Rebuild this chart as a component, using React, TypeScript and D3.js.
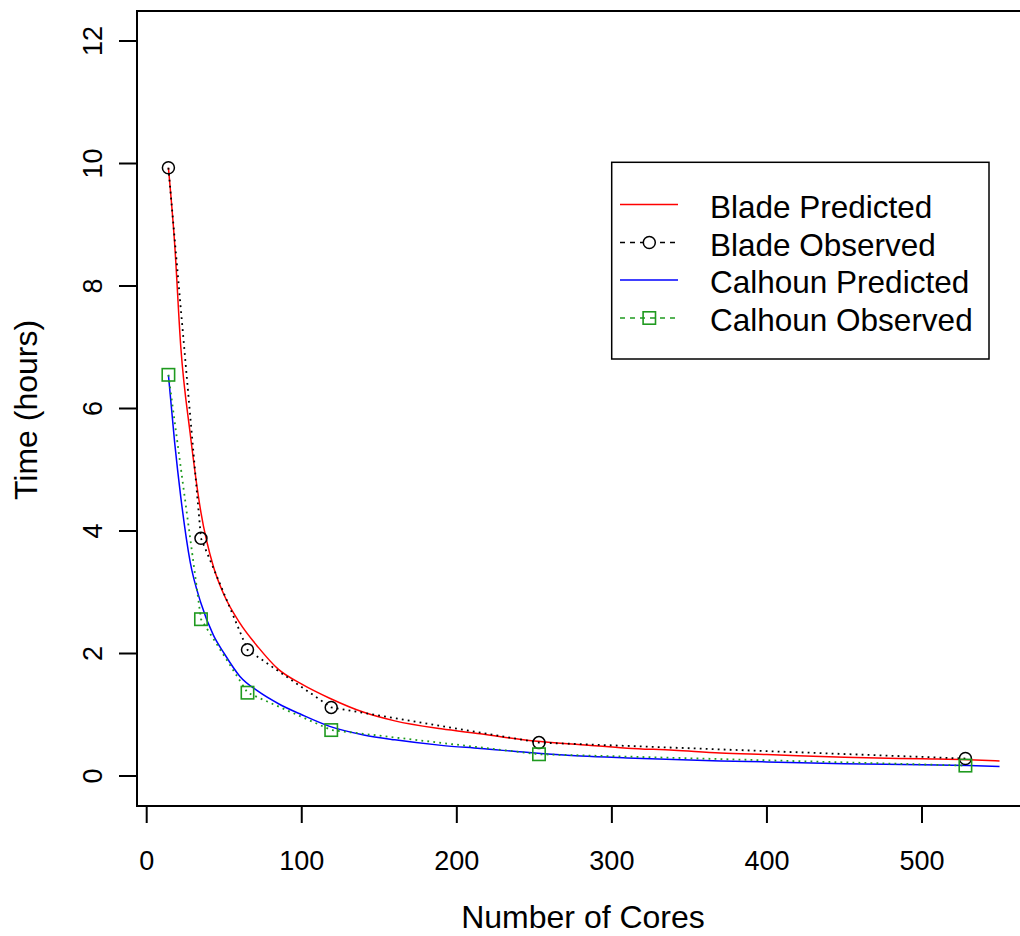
import React from "react";
import * as d3 from "d3";

// ---- data ----
const predCores = [14, 18, 22, 28, 35, 43, 50, 60, 72, 85, 100, 118, 140, 160, 190, 215, 250, 280, 310, 340, 370, 400, 450, 500, 530, 550];
const bladePredicted = [9.93, 8.7, 7.0, 5.6, 4.3, 3.42, 2.95, 2.5, 2.1, 1.74, 1.5, 1.27, 1.04, 0.9, 0.77, 0.69, 0.57, 0.51, 0.455, 0.42, 0.375, 0.35, 0.305, 0.28, 0.265, 0.245];
const calhounPredicted = [6.55, 5.45, 4.55, 3.5, 2.82, 2.3, 2.0, 1.63, 1.38, 1.18, 1.0, 0.81, 0.67, 0.59, 0.5, 0.45, 0.375, 0.325, 0.295, 0.27, 0.245, 0.23, 0.2, 0.185, 0.17, 0.155];

const obsCores = [14, 35, 65, 119, 253, 528];
const bladeObserved = [9.93, 3.88, 2.06, 1.12, 0.545, 0.285];
const calhounObserved = [6.55, 2.56, 1.36, 0.75, 0.355, 0.17];

const xTicks = [0, 100, 200, 300, 400, 500];
const yTicks = [0, 2, 4, 6, 8, 10, 12];

const legendLabels = ["Blade Predicted", "Blade Observed", "Calhoun Predicted", "Calhoun Observed"];

const RED = "#ff0000";
const BLUE = "#0000ff";
const GREEN = "#1f9a1f";
const FONT = "'Liberation Sans', Arial, Helvetica, sans-serif";

export default function App() {
  const W = 1020, H = 936;
  const x = d3.scaleLinear().domain([0, 500]).range([146.7, 922]);
  const y = d3.scaleLinear().domain([0, 12]).range([776, 41]);
  const boxL = 137, boxT = 11, boxB = 806, boxR = 1033;

  const predLine = d3
    .line<[number, number]>()
    .x((d) => x(d[0]))
    .y((d) => y(d[1]))
    .curve(d3.curveMonotoneX);
  const obsLine = d3
    .line<[number, number]>()
    .x((d) => x(d[0]))
    .y((d) => y(d[1]));

  const zip = (xs: number[], ys: number[]) => xs.map((v, i) => [v, ys[i]] as [number, number]);

  const legBaselines = [217.5, 255.5, 293, 331];
  const legX0 = 620, legX1 = 678, legSym = 649.3, legText = 710;

  return (
    <svg width={W} height={H} style={{ position: "absolute", left: 0, top: 0, background: "#fff" }} fontFamily={FONT}>
      <rect x={0} y={0} width={W} height={H} fill="#fff" />
      {/* predicted curves */}
      <path d={predLine(zip(predCores, bladePredicted)) || ""} fill="none" stroke={RED} strokeWidth={1.5} />
      <path d={predLine(zip(predCores, calhounPredicted)) || ""} fill="none" stroke={BLUE} strokeWidth={1.5} />
      {/* observed lines */}
      <path d={obsLine(zip(obsCores, bladeObserved)) || ""} fill="none" stroke="#000" strokeWidth={1.8} strokeDasharray="1.8,4.2" />
      <path d={obsLine(zip(obsCores, calhounObserved)) || ""} fill="none" stroke={GREEN} strokeWidth={1.8} strokeDasharray="1.8,4.2" />
      {obsCores.map((c, i) => (
        <circle key={"b" + i} cx={x(c)} cy={y(bladeObserved[i])} r={6} fill="none" stroke="#000" strokeWidth={1.5} />
      ))}
      {obsCores.map((c, i) => (
        <rect key={"c" + i} x={x(c) - 6.2} y={y(calhounObserved[i]) - 6.2} width={12.4} height={12.4} fill="none" stroke={GREEN} strokeWidth={1.6} />
      ))}

      {/* box */}
      <rect x={boxL} y={boxT} width={boxR - boxL} height={boxB - boxT} fill="none" stroke="#000" strokeWidth={2} />

      {/* x axis */}
      <line x1={x(0)} x2={x(500)} y1={boxB} y2={boxB} stroke="#000" strokeWidth={2} />
      {xTicks.map((t) => (
        <g key={"xt" + t}>
          <line x1={x(t)} x2={x(t)} y1={boxB} y2={boxB + 17} stroke="#000" strokeWidth={2} />
          <text x={x(t)} y={870} fontSize={27} textAnchor="middle" fill="#000">
            {t}
          </text>
        </g>
      ))}
      {/* y axis */}
      {yTicks.map((t) => (
        <g key={"yt" + t}>
          <line x1={boxL - 18} x2={boxL} y1={y(t)} y2={y(t)} stroke="#000" strokeWidth={2} />
          <text transform={`translate(102,${y(t)}) rotate(-90)`} fontSize={27} textAnchor="middle" fill="#000">
            {t}
          </text>
        </g>
      ))}

      {/* axis titles */}
      <text x={583} y={928} fontSize={32} textAnchor="middle" fill="#000">
        Number of Cores
      </text>
      <text transform={`translate(37,410) rotate(-90)`} fontSize={32} textAnchor="middle" fill="#000">
        Time (hours)
      </text>

      {/* legend */}
      <rect x={611.7} y={162.3} width={377.3} height={196.7} fill="#fff" stroke="#000" strokeWidth={1.5} />
      {legendLabels.map((lab, i) => {
        const b = legBaselines[i];
        const ly = b - 13;
        return (
          <g key={lab}>
            {i === 0 && <line x1={legX0} x2={legX1} y1={ly} y2={ly} stroke={RED} strokeWidth={1.5} />}
            {i === 2 && <line x1={legX0} x2={legX1} y1={ly} y2={ly} stroke={BLUE} strokeWidth={1.5} />}
            {i === 1 && (
              <>
                <line x1={legX0} x2={legX1} y1={ly} y2={ly} stroke="#000" strokeWidth={1.5} strokeDasharray="5,5" />
                <circle cx={legSym} cy={ly} r={6} fill="#fff" stroke="#000" strokeWidth={1.5} />
              </>
            )}
            {i === 3 && (
              <>
                <line x1={legX0} x2={legX1} y1={ly} y2={ly} stroke={GREEN} strokeWidth={1.5} strokeDasharray="5,5" />
                <rect x={legSym - 6.2} y={ly - 6.2} width={12.4} height={12.4} fill="none" stroke={GREEN} strokeWidth={1.6} />
              </>
            )}
            <text x={legText} y={b} fontSize={31.5} fill="#000">
              {lab}
            </text>
          </g>
        );
      })}
    </svg>
  );
}
